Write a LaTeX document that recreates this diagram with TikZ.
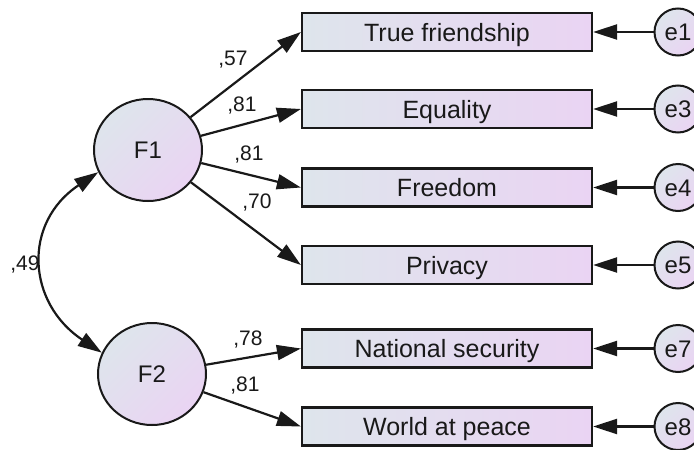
\documentclass[tikz,border=0pt]{standalone}
\usepackage{fontspec}
\setmainfont{Liberation Sans}
\usetikzlibrary{shapes.geometric,arrows.meta}
\definecolor{cA}{RGB}{222,229,236}
\definecolor{cB}{RGB}{234,212,243}
\definecolor{ink}{RGB}{25,25,25}
\begin{document}
\begin{tikzpicture}[x=1pt,y=-1pt,
  every node/.style={text=ink},
  obs/.style={draw=ink, line width=2.2pt, minimum width=290pt, minimum height=38pt, inner sep=0pt, left color=cA, right color=cB, font=\fontsize{25}{28}\selectfont, text height=18pt, text depth=0pt},
  lat/.style={ellipse, draw=ink, line width=2pt, minimum width=108pt, minimum height=102pt, inner sep=0pt, top color=cA, bottom color=cB, shading angle=45, font=\fontsize{24}{28}\selectfont, text height=17pt, text depth=0pt},
  err/.style={circle, draw=ink, line width=2pt, minimum size=47pt, inner sep=0pt, top color=cA, bottom color=cB, shading angle=45, font=\fontsize{24}{28}\selectfont, text height=17pt, text depth=0pt},
  lbl/.style={font=\fontsize{21}{24}\selectfont, inner sep=0pt},
  arr/.style={draw=ink, line width=2.2pt, -{Triangle[length=24pt,width=15pt]}},
  darr/.style={draw=ink, line width=2.2pt, {Triangle[length=24pt,width=15pt]}-{Triangle[length=24pt,width=15pt]}},
]
\useasboundingbox (0,0) rectangle (694,450);

\node[obs] (b1) at (447,32) {True friendship};
\node[obs] (b2) at (447,109) {Equality};
\node[obs] (b3) at (447,187.5) {Freedom};
\node[obs] (b4) at (447,265) {Privacy};
\node[obs] (b5) at (447,348.5) {National security};
\node[obs] (b6) at (447,426.5) {World at peace};

\node[err] (e1) at (678,32) {e1};
\node[err] (e3) at (678,109) {e3};
\node[err] (e4) at (678,187.5) {e4};
\node[err] (e5) at (678,265) {e5};
\node[err] (e7) at (678,348.5) {e7};
\node[err] (e8) at (678,426.5) {e8};

\node[lat] (F1) at (148,150) {F1};
\node[lat] (F2) at (152,374) {F2};

\draw[arr] (F1) -- (b1.west);
\draw[arr] (F1) -- (b2.west);
\draw[arr] (F1) -- (b3.west);
\draw[arr] (F1) -- (b4.west);
\draw[arr] (F2) -- (b5.west);
\draw[arr] (F2) -- (b6.west);

\draw[arr] (e1) -- (b1.east);
\draw[arr] (e3) -- (b2.east);
\draw[arr] (e4) -- (b3.east);
\draw[arr] (e5) -- (b4.east);
\draw[arr] (e7) -- (b5.east);
\draw[arr] (e8) -- (b6.east);

\draw[darr] (F1.204) .. controls (22,223) and (27,303) .. (F2.157);

\node[lbl] (l1) at (233,60) {,57};
\node[lbl] (l2) at (242,106) {,81};
\node[lbl] (l3) at (249,155) {,81};
\node[lbl] (l4) at (257,203) {,70};
\node[lbl] (l5) at (25,265) {,49};
\node[lbl] (l6) at (248,340) {,78};
\node[lbl] (l7) at (245,386) {,81};
\end{tikzpicture}
\end{document}
